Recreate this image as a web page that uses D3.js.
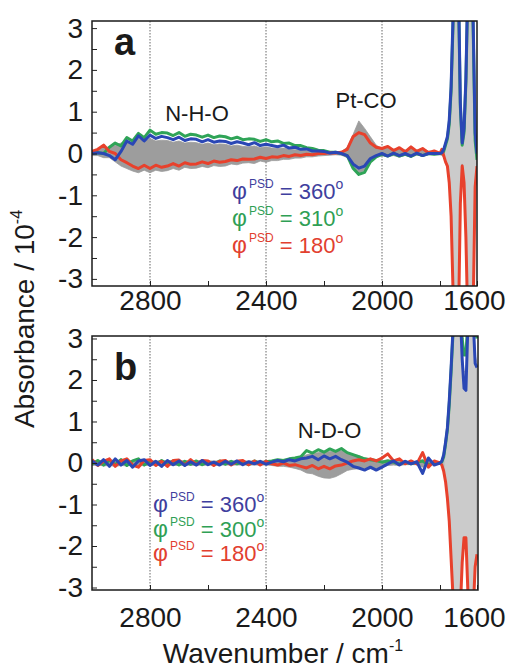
<!DOCTYPE html>
<html>
<head>
<meta charset="utf-8">
<script src="https://cdn.jsdelivr.net/npm/d3@7"></script>
<style>
  body { margin: 0; background: #fff; }
  svg { display: block; font-family: "Liberation Sans", Arial, sans-serif; }
</style>
</head>
<body>
<div id="chart"></div>
<script>
// Wavenumber grid (cm-1), shared by both panels
const wavenumbers = [3000,2980,2960,2940,2920,2900,2880,2860,2840,2820,
  2800,2780,2760,2740,2720,2700,2680,2660,2640,2620,
  2600,2580,2560,2540,2520,2500,2480,2460,2440,2420,
  2400,2380,2360,2340,2320,2300,2280,2260,2240,2220,
  2200,2180,2160,2140,2120,2100,2080,2060,2040,2020,
  2000,1980,1960,1940,1920,1900,1880,1860,1840,1820,
  1800,1790,1780,1770,1760,1750,1740,1730,1720,1710,
  1700,1690,1680,1670,1660,1650,1640,1630,1620,1610,
  1600];

// Panel a (absorbance / 10^-4)
const blueA = [0,0.02,0,-0.05,-0.15,0.05,0.3,0.22,0.42,0.3,
  0.44,0.36,0.41,0.38,0.33,0.39,0.31,0.35,0.34,0.28,
  0.33,0.27,0.3,0.29,0.24,0.28,0.25,0.21,0.26,0.19,
  0.22,0.19,0.16,0.2,0.13,0.15,0.1,0.11,0.06,0.06,
  0.05,0.01,0.03,0,-0.05,-0.25,-0.35,-0.3,-0.12,-0.05,
  0,-0.06,0.01,-0.05,0,-0.06,0.01,-0.05,0,0,
  0,0.02,0.1,0.25,0.4,0.8,1.6,3.2,5,5,
  4,1.2,0.25,0.6,1.8,4,5,5,3,0.5,
  0];
const greenA = [0,0.02,0,0.15,0.25,0.18,0.38,0.3,0.48,0.38,
  0.56,0.46,0.5,0.49,0.43,0.5,0.41,0.46,0.44,0.39,
  0.44,0.38,0.42,0.4,0.35,0.39,0.33,0.35,0.34,0.29,
  0.33,0.28,0.3,0.24,0.25,0.19,0.19,0.14,0.12,0.08,
  0.07,0.03,0.03,0,-0.05,-0.35,-0.5,-0.45,-0.2,-0.08,
  -0.02,-0.06,0,-0.06,-0.02,-0.07,0,-0.05,0,-0.02,
  0,0,0.05,0.2,0.35,0.7,1.5,3,5,5,
  3.8,1.1,0.2,0.5,1.7,3.8,5,5,2.8,0.3,
  -0.15];
const redA = [0.05,0.1,0.2,0.05,0,-0.15,-0.22,-0.3,-0.36,-0.28,
  -0.36,-0.28,-0.33,-0.3,-0.24,-0.3,-0.22,-0.26,-0.25,-0.2,
  -0.24,-0.18,-0.21,-0.19,-0.15,-0.17,-0.13,-0.14,-0.13,-0.09,
  -0.12,-0.08,-0.09,-0.05,-0.07,-0.03,-0.05,-0.02,-0.03,0,
  0,0.02,0.01,0.03,0.1,0.4,0.5,0.45,0.25,0.15,
  0.12,0.17,0.07,0.14,0.04,0.16,0.05,0.12,0.02,0.06,
  0,0.1,-0.05,-0.2,-0.3,-0.7,-1.5,-3.2,-5,-5,
  -4,-1.2,-0.3,-0.7,-2,-4,-5,-5,-3.5,-0.8,
  -0.3];
const grayHiA = [0.05,0.1,0.15,0.15,0.2,0.25,0.3,0.22,0.36,0.28,
  0.36,0.3,0.32,0.31,0.27,0.3,0.25,0.27,0.26,0.22,
  0.25,0.21,0.23,0.22,0.18,0.2,0.17,0.16,0.18,0.14,
  0.16,0.13,0.12,0.13,0.1,0.09,0.08,0.07,0.05,0.04,
  0.04,0.03,0.03,0.04,0.15,0.45,0.78,0.6,0.4,0.2,
  0.12,0.16,0.1,0.14,0.08,0.15,0.08,0.12,0.06,0.05,
  0.03,0.05,0.08,0.2,0.35,0.7,1.4,3,5,5,
  3.8,1,0.2,0.5,1.6,3.8,5,5,2.8,0.4,
  0];
const grayLoA = [-0.05,-0.05,-0.1,-0.1,-0.2,-0.3,-0.36,-0.42,-0.46,-0.4,
  -0.46,-0.4,-0.43,-0.41,-0.36,-0.4,-0.33,-0.36,-0.35,-0.31,
  -0.34,-0.29,-0.31,-0.3,-0.25,-0.27,-0.23,-0.22,-0.24,-0.18,
  -0.21,-0.17,-0.17,-0.14,-0.14,-0.11,-0.11,-0.08,-0.08,-0.06,
  -0.05,-0.04,-0.03,-0.04,-0.1,-0.3,-0.47,-0.4,-0.2,-0.08,
  -0.05,-0.07,-0.05,-0.09,-0.04,-0.09,-0.04,-0.06,-0.03,-0.03,
  -0.03,-0.05,-0.08,-0.2,-0.3,-0.65,-1.4,-3,-5,-5,
  -3.8,-1.1,-0.25,-0.6,-1.8,-3.8,-5,-5,-3.3,-0.7,
  -0.25];

// Panel b
const blueB = [0.05,-0.05,0.08,-0.08,0.1,-0.05,0.06,-0.1,0.05,0.08,
  -0.06,0.04,-0.08,0.06,-0.04,0.05,-0.06,0.03,-0.05,0.06,
  -0.04,0.02,-0.05,0.04,-0.03,0.05,-0.04,0.03,-0.02,0.04,
  -0.03,0.02,0.06,0.03,0.08,0.05,0.1,0.12,0.16,0.08,
  0.17,0.1,0.16,0.08,0.02,-0.08,-0.12,-0.17,-0.1,-0.17,
  -0.1,-0.02,0.05,-0.05,0.04,-0.02,0.03,-0.25,0.12,-0.05,
  0,0.05,0.2,0.5,0.85,1.5,2.3,3.2,4,4.5,
  4.5,3.6,2.5,1.8,1.75,3.2,4.5,4.5,3.4,2.4,
  2.3];
const greenB = [-0.03,0.06,-0.05,0.07,-0.04,0.08,-0.06,0.05,0.1,-0.05,
  0.05,-0.04,0.06,-0.03,0.05,-0.05,0.04,-0.03,0.05,-0.04,
  0.03,-0.04,0.05,-0.03,0.04,-0.02,0.03,-0.04,0.05,-0.02,
  0.03,0.05,0.08,0.06,0.1,0.12,0.15,0.3,0.24,0.32,
  0.26,0.34,0.28,0.35,0.25,0.2,0.15,0.1,0.08,0.06,
  0.02,0.05,0.02,-0.03,0.03,-0.02,0.02,0.05,-0.04,0.02,
  0,0.03,0.15,0.45,0.8,1.4,2.2,3.1,4,4.5,
  4.5,3.8,3,2.6,2.6,3.4,4.5,4.5,3.8,3.2,
  3];
const redB = [0.08,-0.06,0.04,0.1,-0.08,0.05,0.1,-0.05,-0.1,0.06,
  0.08,-0.06,0.04,-0.08,0.06,0.07,-0.05,0.08,-0.04,0.06,
  0.05,-0.06,0.04,0.06,-0.05,0.04,0.06,-0.04,0.05,-0.05,
  0.04,-0.02,-0.05,0,-0.06,-0.04,-0.08,-0.12,-0.06,-0.14,
  -0.08,-0.14,-0.07,-0.05,0,0.05,0.08,0.05,0.1,0.05,
  0.12,0.22,0.05,0.1,-0.02,0.05,-0.02,0.25,-0.1,0.05,
  0,-0.05,-0.2,-0.45,-0.85,-1.4,-2.3,-3.2,-4.5,-5,
  -4.5,-3.5,-2.4,-1.8,-1.8,-3,-4.5,-4.5,-3.5,-2.5,
  -2.2];
const grayHiB = [0.06,0.05,0.07,0.06,0.08,0.06,0.07,0.05,0.07,0.06,
  0.06,0.05,0.06,0.05,0.06,0.06,0.05,0.06,0.05,0.06,
  0.05,0.05,0.05,0.05,0.05,0.05,0.05,0.05,0.05,0.05,
  0.05,0.06,0.08,0.08,0.1,0.12,0.14,0.2,0.22,0.25,
  0.25,0.28,0.28,0.3,0.25,0.2,0.18,0.12,0.1,0.08,
  0.05,0.08,0.05,0.05,0.04,0.04,0.04,0.08,0.05,0.04,
  0.03,0.03,0.15,0.4,0.7,1.3,2.1,3,4,4.5,
  4.5,3.6,2.6,2.2,2.2,3.2,4.5,4.5,3.5,2.6,
  2.4];
const grayLoB = [-0.06,-0.05,-0.07,-0.06,-0.08,-0.06,-0.07,-0.05,-0.07,-0.06,
  -0.06,-0.05,-0.06,-0.05,-0.06,-0.06,-0.05,-0.06,-0.05,-0.06,
  -0.05,-0.05,-0.05,-0.05,-0.05,-0.05,-0.05,-0.05,-0.05,-0.05,
  -0.05,-0.06,-0.08,-0.08,-0.1,-0.13,-0.17,-0.24,-0.26,-0.32,
  -0.36,-0.37,-0.33,-0.26,-0.18,-0.15,-0.14,-0.16,-0.14,-0.14,
  -0.1,-0.06,-0.05,-0.06,-0.04,-0.04,-0.04,-0.1,-0.06,-0.04,
  -0.03,-0.03,-0.15,-0.4,-0.75,-1.3,-2.1,-3,-4.5,-5,
  -4.5,-3.5,-2.4,-1.9,-1.9,-3,-4.5,-4.5,-3.5,-2.5,
  -2.3];

// Legend phases and tick labels
const phasesA = [360, 310, 180];
const phasesB = [360, 300, 180];
const xTicks = [2800, 2600, 2400, 2200, 2000, 1800, 1600];
const xLabels = [2800, 2400, 2000, 1600];
const gridLines = [2800, 2400, 2000];
const yTicks = [-3, -2.5, -2, -1.5, -1, -0.5, 0, 0.5, 1, 1.5, 2, 2.5, 3];

const lineColors = ["#2a47b5", "#2fa457", "#e8412c"];   // 360, 310/300, 180
const textColors = ["#3f3f9e", "#2f9f55", "#e2402f"];

const width = 508, height = 671;
const svg = d3.select("#chart").append("svg")
  .attr("width", width)
  .attr("height", height);

// x axis is compressed between 1800 and 1600 as in the original figure
const x = d3.scaleLinear().domain([3000, 1800, 1600]).range([92, 440, 477]);

// grey fan: dense in the noise region, lighter where the curves spread out
const grad = svg.append("defs").append("linearGradient")
  .attr("id", "fan")
  .attr("gradientUnits", "userSpaceOnUse")
  .attr("x1", x(1800)).attr("x2", x(1770))
  .attr("y1", 0).attr("y2", 0);
grad.append("stop").attr("offset", 0).attr("stop-color", "#9d9d9d");
grad.append("stop").attr("offset", 1).attr("stop-color", "#cbcbcb");

const panels = [
  { id: "a", top: 21, bottom: 286, right: 477, ext: 3.17, pad: 4,
    blue: blueA, green: greenA, red: redA, hi: grayHiA, lo: grayLoA,
    phases: phasesA, legend: { x: 232, y: 199, step: 27 },
    notes: [{ text: "N-H-O", wn: 2638, v: 0.78 }, { text: "Pt-CO", wn: 2055, v: 1.09 }] },
  { id: "b", top: 336, bottom: 590, right: 478, ext: 3.06, pad: 17,
    blue: blueB, green: greenB, red: redB, hi: grayHiB, lo: grayLoB,
    phases: phasesB, legend: { x: 153, y: 512, step: 24.5 },
    notes: [{ text: "N-D-O", wn: 2181, v: 0.6 }] }
];

panels.forEach(function(p) {
  const y = d3.scaleLinear().domain([-p.ext, p.ext]).range([p.bottom, p.top]);
  const g = svg.append("g");

  g.append("clipPath").attr("id", "clip-" + p.id)
    .append("rect")
    .attr("x", 92).attr("y", p.top)
    .attr("width", p.right - 92).attr("height", p.bottom - p.top);

  // dotted grid lines
  g.selectAll(".grid").data(gridLines).join("line")
    .attr("x1", d => x(d)).attr("x2", d => x(d))
    .attr("y1", p.top).attr("y2", p.bottom)
    .attr("stroke", "#666")
    .attr("stroke-width", 1)
    .attr("stroke-dasharray", "1.5,1.5");

  const plot = g.append("g").attr("clip-path", "url(#clip-" + p.id + ")");

  // grey envelope of the intermediate phase angles
  const area = d3.area()
    .x((d, i) => x(wavenumbers[i]))
    .y0((d, i) => y(p.lo[i]))
    .y1((d, i) => y(p.hi[i]));
  plot.append("path")
    .datum(p.hi)
    .attr("d", area)
    .attr("fill", "url(#fan)")
    .attr("stroke", "#999")
    .attr("stroke-width", 0.8);

  const line = d3.line()
    .x((d, i) => x(wavenumbers[i]))
    .y(d => y(d));

  [[p.green, lineColors[1]], [p.red, lineColors[2]], [p.blue, lineColors[0]]].forEach(function(s) {
    plot.append("path")
      .datum(s[0])
      .attr("d", line)
      .attr("fill", "none")
      .attr("stroke", s[1])
      .attr("stroke-width", 3)
      .attr("stroke-linejoin", "round");
  });

  // axes with inward ticks
  g.append("g")
    .attr("transform", "translate(92,0)")
    .call(d3.axisLeft(y).tickValues(yTicks).tickSize(-5).tickPadding(9)
      .tickFormat(d => Number.isInteger(d) ? String(d) : ""))
    .call(a => a.select(".domain").remove())
    .call(a => a.selectAll("line").attr("stroke", "#222"))
    .call(a => a.selectAll("text").attr("font-size", 28).attr("font-family", "Liberation Sans, Arial, sans-serif").attr("fill", "#1a1a1a"));

  g.append("g")
    .attr("transform", "translate(0," + p.bottom + ")")
    .call(d3.axisBottom(x).tickValues(xTicks).tickSize(-5).tickPadding(p.pad)
      .tickFormat(d => xLabels.includes(d) ? String(d) : ""))
    .call(a => a.select(".domain").remove())
    .call(a => a.selectAll("line").attr("stroke", "#222"))
    .call(a => a.selectAll("text").attr("font-size", 28).attr("font-family", "Liberation Sans, Arial, sans-serif").attr("fill", "#1a1a1a")
      .attr("dx", d => d === 1600 ? -3 : 0));

  // frame
  g.append("rect")
    .attr("x", 92).attr("y", p.top)
    .attr("width", p.right - 92).attr("height", p.bottom - p.top)
    .attr("fill", "none")
    .attr("stroke", "#1a1a1a")
    .attr("stroke-width", 1.5);

  // panel letter
  g.append("text")
    .attr("x", 114).attr("y", p.id === "a" ? 55 : 380)
    .attr("font-size", 38).attr("font-weight", "bold")
    .attr("fill", "#1a1a1a")
    .text(p.id);

  // band annotations
  p.notes.forEach(function(n) {
    g.append("text")
      .attr("x", x(n.wn)).attr("y", y(n.v))
      .attr("text-anchor", "middle")
      .attr("font-size", 22)
      .attr("fill", "#1a1a1a")
      .text(n.text);
  });

  // legend
  p.phases.forEach(function(ph, i) {
    const t = g.append("text")
      .attr("x", p.legend.x).attr("y", p.legend.y + i * p.legend.step)
      .attr("fill", textColors[i])
      .attr("font-size", 22);
    t.append("tspan").attr("font-size", 23).text("φ");
    t.append("tspan").attr("font-size", 12).attr("dx", 2).attr("dy", -11).text("PSD");
    t.append("tspan").attr("dy", 11).text(" = " + ph);
    t.append("tspan").attr("font-size", 14).attr("dy", -10).text("o");
  });
});

// axis titles
const yTitle = svg.append("text")
  .attr("transform", "translate(34,319) rotate(-90)")
  .attr("text-anchor", "middle")
  .attr("font-size", 28)
  .attr("fill", "#1a1a1a");
yTitle.append("tspan").text("Absorbance / 10");
yTitle.append("tspan").attr("font-size", 16).attr("dy", -12).text("-4");

const xTitle = svg.append("text")
  .attr("x", 283).attr("y", 663)
  .attr("text-anchor", "middle")
  .attr("font-size", 28)
  .attr("fill", "#1a1a1a");
xTitle.append("tspan").text("Wavenumber / cm");
xTitle.append("tspan").attr("font-size", 16).attr("dy", -12).text("-1");
</script>
</body>
</html>
